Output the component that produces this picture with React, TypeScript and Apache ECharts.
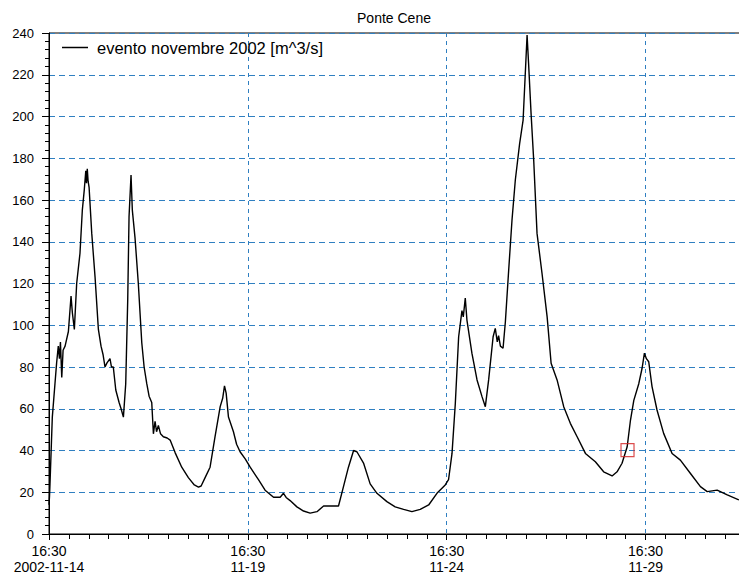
import React, { useEffect, useRef } from "react";
import * as echarts from "echarts";

// Hours elapsed since 2002-11-14 16:30
const hoursFromStart = [
  0, 0.3, 0.6, 2.0, 3.6, 4.6, 5.6, 6.3, 6.9, 7.7, 8.5, 9.7, 11.7, 13.3, 14.1, 15.3, 16.7, 18.7, 20.1, 21.3,
  22.2, 22.6, 23.1, 23.6, 24.2, 25.8, 27.8, 29.8, 31.4, 32.6, 33.8, 35.0, 36.8, 37.7, 38.8, 40.3, 42.3, 43.5,
  44.9, 46.3, 47.5, 48.3, 49.5, 50.3, 51.9, 53.9, 56.0, 57.4, 59.0, 60.4, 62.0, 63.0, 64.0, 64.9, 66.0, 67.3,
  69.0, 71.3, 73.1, 76.1, 80.1, 84.1, 87.7, 90.2, 91.8, 94.2, 97.2, 100.2, 103.3, 104.8, 105.9, 106.9, 108.3,
  111.3, 113.2, 115.3, 118.4, 121.4, 126.4, 130.4, 135.5, 139.5, 141.5, 143.1, 145.5, 149.6, 153.6, 157.6,
  161.7, 165.7, 174.7, 177.7, 180.7, 183.8, 185.8, 189.8, 193.8, 197.9, 203.9, 208.9, 214.0, 219.0, 224.0,
  229.1, 234.1, 239.1, 241.1, 243.2, 245.2, 247.2, 249.2, 250.0, 251.2, 252.2, 255.2, 258.3, 261.3, 263.3,
  265.3, 268.0, 269.3, 270.5, 271.3, 272.4, 274.0, 275.4, 277.4, 279.4, 281.4, 284.0, 286.1, 287.5, 288.5,
  289.4, 290.9, 292.5, 294.5, 297.5, 300.6, 303.0, 306.6, 310.6, 314.6, 318.7, 323.7, 329.7, 334.7, 339.8,
  342.8, 345.8, 348.9, 350.9, 352.9, 355.9, 357.9, 359.3, 360.5, 361.9, 363.9, 366.9, 370.9, 376.0, 381.0,
  387.1, 393.1, 397.2, 403.2, 409.3, 416.3,
];

// Discharge [m^3/s]
const flow = [
  14, 18, 24, 56, 72, 82, 90, 84, 92, 75, 88, 90, 97, 114, 106, 98, 120, 134.5, 155, 165,
  174, 168, 175, 169, 166, 144, 123, 98, 90, 86, 80, 82, 84, 80, 80, 69, 63, 60,
  56, 72, 112, 152, 172, 155, 142, 120, 91.5, 80, 72, 66, 63, 48, 54, 49, 52, 48,
  46.6, 46, 45, 39, 32, 27, 23.5, 22.5, 23, 27, 32, 46.6, 61, 65, 71, 67.5, 56,
  49, 43, 39.4, 36, 32, 26, 21, 17.6, 17.6, 19.5, 17.5, 16, 13, 11, 10,
  10.7, 13.4, 13.4, 22.7, 32, 40, 39.4, 34, 24, 19.5, 15.5, 13, 11.8, 10.7, 11.8,
  13.9, 19.5, 23.5, 26, 38.6, 62.6, 94.5, 107, 104, 113, 102.5, 86.6, 73.8, 65.8, 61,
  73.8, 94.5, 98.5, 92, 95, 90, 89, 101.7, 126.5, 150.4, 169.6, 187, 198.3, 222, 239,
  225.5, 201.5, 179, 144, 124.9, 104, 81.8, 73.8, 61, 53, 46.6, 38.6, 34.6, 29.8, 27.8,
  29.8, 33.9, 41.8, 54.6, 64, 72, 79.4, 86.6, 84, 82.5, 70.6, 59.4, 48.2, 38.6, 35.4,
  29, 22.7, 20.3, 21, 18.7, 16.3,
];

const markerPoint = [349.1, 40.2];

const START_UTC = Date.UTC(2002, 10, 14, 16, 30);
const TITLE = "Ponte Cene";
const SERIES_NAME = "evento novembre 2002 [m^3/s]";

const pad = (n: number) => (n < 10 ? "0" + n : "" + n);

export default function App() {
  const ref = useRef<HTMLDivElement>(null);

  useEffect(() => {
    if (!ref.current) return;
    const chart = echarts.init(ref.current, undefined, { renderer: "svg" });
    const font = "Liberation Sans, Arial, sans-serif";
    const gridBlue = "#2f7fc1";
    const data = hoursFromStart.map((h, i) => [h, flow[i]]);

    chart.setOption({
      animation: false,
      backgroundColor: "#ffffff",
      textStyle: { fontFamily: font },
      title: {
        text: TITLE,
        left: 389,
        top: 6,
        textAlign: "center",
        textStyle: { fontSize: 14, fontWeight: "normal", color: "#000", fontFamily: font },
      },
      legend: {
        data: [{ name: SERIES_NAME, icon: "rect" }],
        left: 62,
        top: 39,
        padding: 0,
        itemWidth: 26,
        itemHeight: 1.5,
        itemGap: 5,
        textStyle: { fontSize: 16.5, color: "#000", fontFamily: font, padding: [0, 0, 0, 4] },
        selectedMode: false,
      },
      grid: {
        left: 49,
        top: 33,
        bottom: 47,
        right: 0,
        show: true,
        borderColor: "#000",
        borderWidth: 1,
        backgroundColor: "transparent",
      },
      xAxis: {
        type: "value",
        min: 0,
        max: 420,
        interval: 120,
        axisLine: { show: true, lineStyle: { color: "#000", width: 1 } },
        axisTick: { show: true, length: 6, lineStyle: { color: "#000" } },
        minorTick: { show: true, splitNumber: 10, length: 5, lineStyle: { color: "#000" } },
        splitLine: { show: true, lineStyle: { color: gridBlue, type: [4, 4], width: 1 } },
        axisLabel: {
          showMaxLabel: false,
          margin: 9,
          fontSize: 14,
          lineHeight: 16,
          color: "#000",
          fontFamily: font,
          formatter: (v: number) => {
            const d = new Date(START_UTC + v * 3600000);
            const hm = pad(d.getUTCHours()) + ":" + pad(d.getUTCMinutes());
            const md = pad(d.getUTCMonth() + 1) + "-" + pad(d.getUTCDate());
            const date = v === 0 ? d.getUTCFullYear() + "-" + md : md;
            return hm + "\n" + date;
          },
        },
      },
      yAxis: {
        type: "value",
        min: 0,
        max: 240,
        interval: 20,
        axisLine: { show: true, lineStyle: { color: "#000", width: 1 } },
        axisTick: { show: true, length: 7, lineStyle: { color: "#000" } },
        minorTick: { show: true, splitNumber: 5, length: 4, lineStyle: { color: "#000" } },
        splitLine: { show: true, lineStyle: { color: gridBlue, type: [6, 4], width: 1 } },
        axisLabel: { margin: 15, fontSize: 13, color: "#000", fontFamily: font },
      },
      series: [
        {
          name: SERIES_NAME,
          type: "line",
          data,
          showSymbol: false,
          symbol: "none",
          lineStyle: { color: "#000", width: 1.4 },
          itemStyle: { color: "#000" },
          z: 3,
        },
        {
          name: "marker",
          type: "scatter",
          data: [markerPoint],
          symbol: "rect",
          symbolSize: 13,
          itemStyle: { color: "rgba(0,0,0,0)", borderColor: "#d32020", borderWidth: 1.2 },
          z: 4,
        },
      ],
    });

    return () => chart.dispose();
  }, []);

  return (
    <div
      style={{
        position: "fixed",
        left: 0,
        top: 0,
        width: 739,
        height: 581,
        overflow: "hidden",
        background: "#fff",
      }}
    >
      <div ref={ref} style={{ width: 745, height: 581 }} />
    </div>
  );
}
